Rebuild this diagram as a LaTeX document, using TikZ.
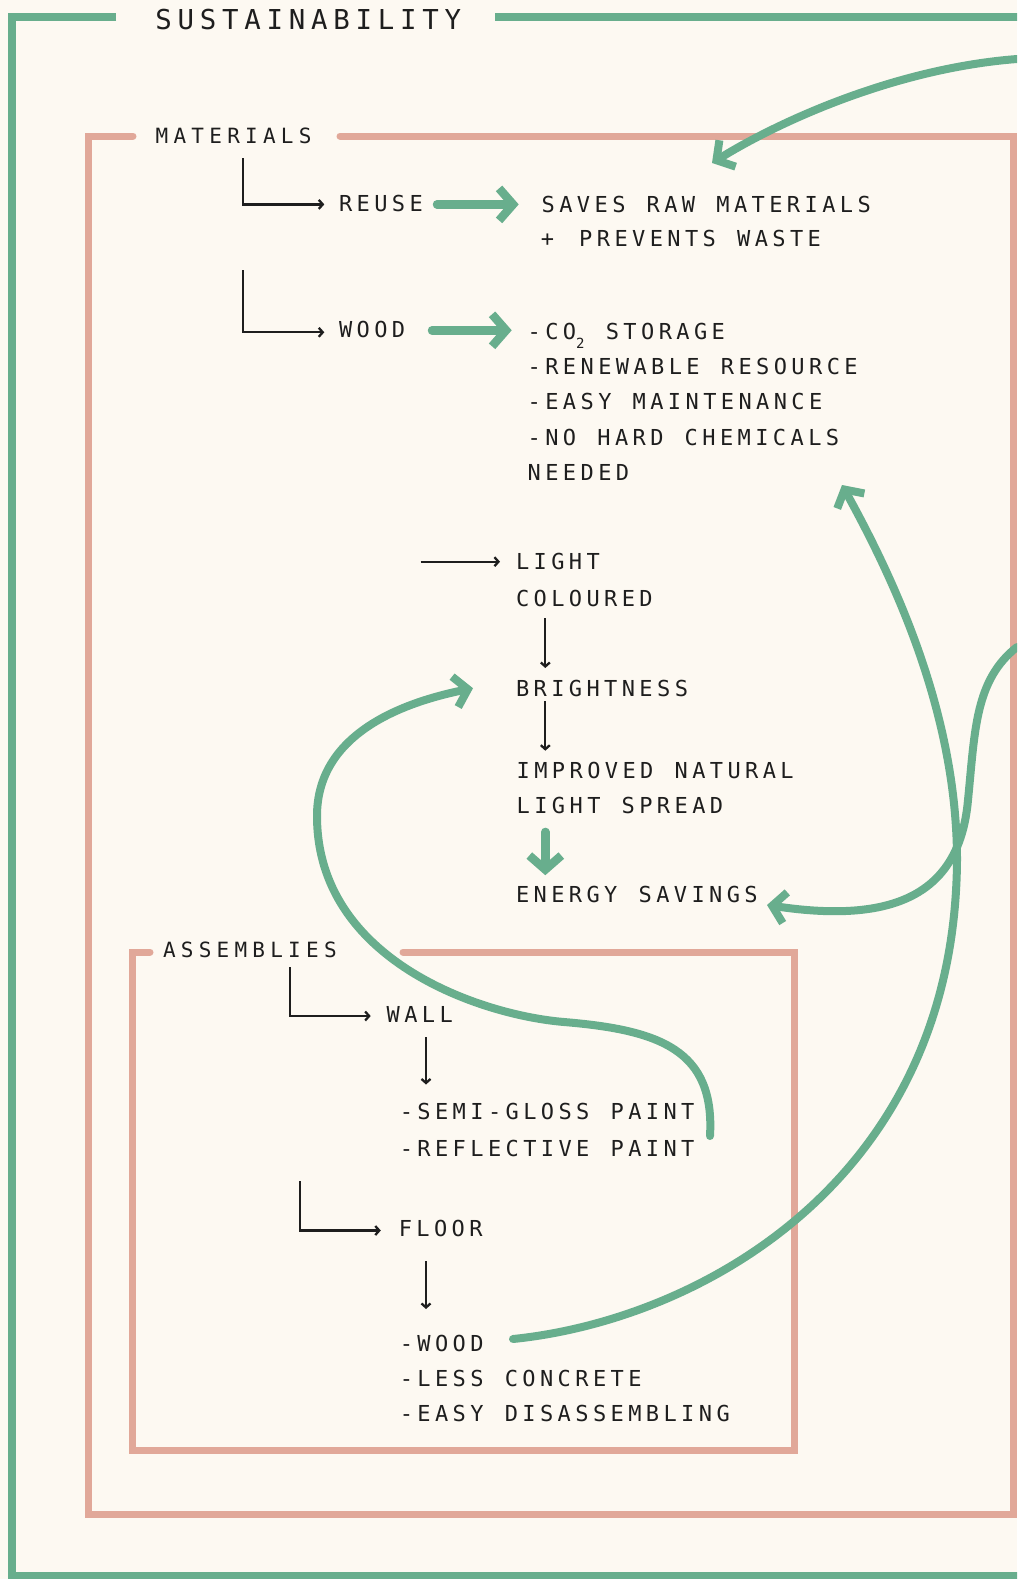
\documentclass[tikz,border=0pt]{standalone}
\usepackage{fontspec}
\usetikzlibrary{arrows.meta,calc}
\newfontfamily\titlefont[LetterSpace=21]{DejaVu Sans Mono}
\newfontfamily\labelfont[LetterSpace=20,WordSpace=1.2]{DejaVu Sans Mono}
\newfontfamily\headfont[LetterSpace=25,WordSpace=1.2]{DejaVu Sans Mono}
\definecolor{paper}{HTML}{FDF9F2}
\definecolor{sage}{HTML}{68AE8D}
\definecolor{blush}{HTML}{E1A899}
\definecolor{ink}{HTML}{1E1E1E}
\tikzset{
  txt/.style={anchor=base west, inner sep=0pt, outer sep=0pt, text=ink,
    font=\labelfont\fontsize{22}{26}\selectfont},
  head/.style={txt, font=\headfont\fontsize{21}{25}\selectfont},
  maintitle/.style={txt, font=\titlefont\fontsize{27.4}{32}\selectfont},
  outerframe/.style={draw=sage, line width=8pt},
  groupframe/.style={draw=blush, line width=7pt, line cap=round},
  blackarrow/.style={draw=ink, line width=2.3pt,
    -{Straight Barb[length=4pt,width=9pt,line join=miter]}},
  greenarrow/.style={draw=sage, line width=8.5pt, line cap=round,
    -{Straight Barb[length=14pt,width=32pt,line join=miter,line cap=butt]}},
  greencurve/.style={draw=sage, line width=8pt, line cap=round,
    -{Straight Barb[length=13pt,width=31pt,line join=miter,line cap=butt]}},
}
\begin{document}
\begin{tikzpicture}[x=1pt,y=-1pt]
\useasboundingbox (0,0) rectangle (1017,1579);
\fill[paper] (0,0) rectangle (1017,1579);
\clip (0,0) rectangle (1017,1579);

% frames
\draw[outerframe] (116,17) -- (12,17) -- (12,1576) -- (1030,1576);
\draw[outerframe] (495,17) -- (1030,17);
\draw[groupframe] (133,136) -- (88,136) -- (88,1514) -- (1013,1514) -- (1013,136) -- (340,136);
\draw[groupframe] (150,952) -- (132,952) -- (132,1450) -- (794.5,1450) -- (794.5,952) -- (403,952);

% labels
\node[maintitle] (sust) at (155.3,29.3) {SUSTAINABILITY};
\node[head] (mat) at (155.7,143.3) {MATERIALS};
\node[txt] (reuse) at (339,211.5) {REUSE};
\node[txt] (saves) at (541.7,212.5) {SAVES RAW MATERIALS};
\node[txt] (waste) at (540.8,246.7) {+\hspace{4pt} PREVENTS WASTE};
\node[txt] (wood) at (339,337.3) {WOOD};
\node[txt] (co2) at (527.7,339.3) {-CO\raisebox{-9pt}{\fontsize{14}{14}\selectfont 2} STORAGE};
\node[txt] (renew) at (527.7,374.5) {-RENEWABLE RESOURCE};
\node[txt] (maint) at (527.7,409.8) {-EASY MAINTENANCE};
\node[txt] (chem) at (527.7,445) {-NO HARD CHEMICALS};
\node[txt] (needed) at (527.7,480.3) {NEEDED};
\node[txt] (light) at (516,569.3) {LIGHT};
\node[txt] (coloured) at (516,606) {COLOURED};
\node[txt] (bright) at (516,696) {BRIGHTNESS};
\node[txt] (improved) at (516.7,778.3) {IMPROVED NATURAL};
\node[txt] (spread) at (516.7,813.5) {LIGHT SPREAD};
\node[txt] (energy) at (516,902.2) {ENERGY SAVINGS};
\node[head] (asm) at (163,957.6) {ASSEMBLIES};
\node[txt] (wall) at (386.7,1022) {WALL};
\node[txt] (semi) at (399.8,1119.7) {-SEMI-GLOSS PAINT};
\node[txt] (refl) at (399.8,1156) {-REFLECTIVE PAINT};
\node[txt] (floor) at (398.8,1236.5) {FLOOR};
\node[txt] (fwood) at (399.8,1351.3) {-WOOD};
\node[txt] (concrete) at (399.8,1386.6) {-LESS CONCRETE};
\node[txt] (disasm) at (399.8,1421.8) {-EASY DISASSEMBLING};

% tree connectors
\coordinate (matstem) at (242.7,158);
\draw[blackarrow] (matstem) |- ($(reuse.base west)+(-14.7,-7.1)$);
\coordinate (woodstem) at (242.7,270);
\draw[blackarrow] (woodstem) |- ($(wood.base west)+(-14.7,-5)$);
\draw[greenarrow] ($(reuse.base west)+(98,-7.1)$) -- ($(saves.base west)+(-23,-8.1)$);
\draw[greenarrow] ($(wood.base west)+(93,-7)$) -- ($(co2.base west)+(-16,-9)$);
\coordinate (lightfeed) at (420.7,561.7);
\draw[blackarrow] (lightfeed) -- ($(light.base west)+(-16,-7.6)$);
\draw[blackarrow] ($(coloured.base west)+(29.3,12)$) -- ($(bright.base west)+(29.3,-28)$);
\draw[blackarrow] ($(bright.base west)+(29.3,5)$) -- ($(improved.base west)+(28.6,-27.6)$);
\draw[greenarrow] ($(spread.base west)+(28.6,18.4)$) -- ($(energy.base west)+(29.3,-27)$);
\coordinate (asmstem) at (290,967);
\draw[blackarrow] (asmstem) |- ($(wall.base west)+(-16,-6)$);
\draw[blackarrow] ($(wall.base west)+(39.3,15)$) -- ($(semi.base west)+(26.2,-35.2)$);
\coordinate (floorstem) at (300,1181);
\draw[blackarrow] (floorstem) |- ($(floor.base west)+(-18,-6)$);
\draw[blackarrow] ($(floor.base west)+(27.2,24.5)$) -- ($(fwood.base west)+(26.2,-42.3)$);

% sweeping links
\coordinate (reuseentry) at (1017,59);
\draw[greencurve] (reuseentry) .. controls (900,68) and (785,118) .. ($(saves.base west)+(170.3,-49.5)$);
\draw[greencurve] ($(fwood.base west)+(113.2,-12.3)$) .. controls (700,1320) and (955,1180) .. (957,860)
  .. controls (957,720) and (900,590) .. ($(needed.base west)+(314.3,4.7)$);
\coordinate (energyentry) at (1017,647);
\draw[greencurve] (energyentry) .. controls (975,680) and (975,730) .. (968,800)
  .. controls (960,890) and (900,925) .. ($(energy.base west)+(251,2.8)$);
\draw[greencurve] ($(refl.base west)+(310.2,-20)$) .. controls (715,1050) and (660,1030) .. (564,1022)
  .. controls (480,1015) and (317,960) .. (317,816)
  .. controls (317,740) and (390,705) .. ($(bright.base west)+(-43,-7.8)$);
\end{tikzpicture}
\end{document}
